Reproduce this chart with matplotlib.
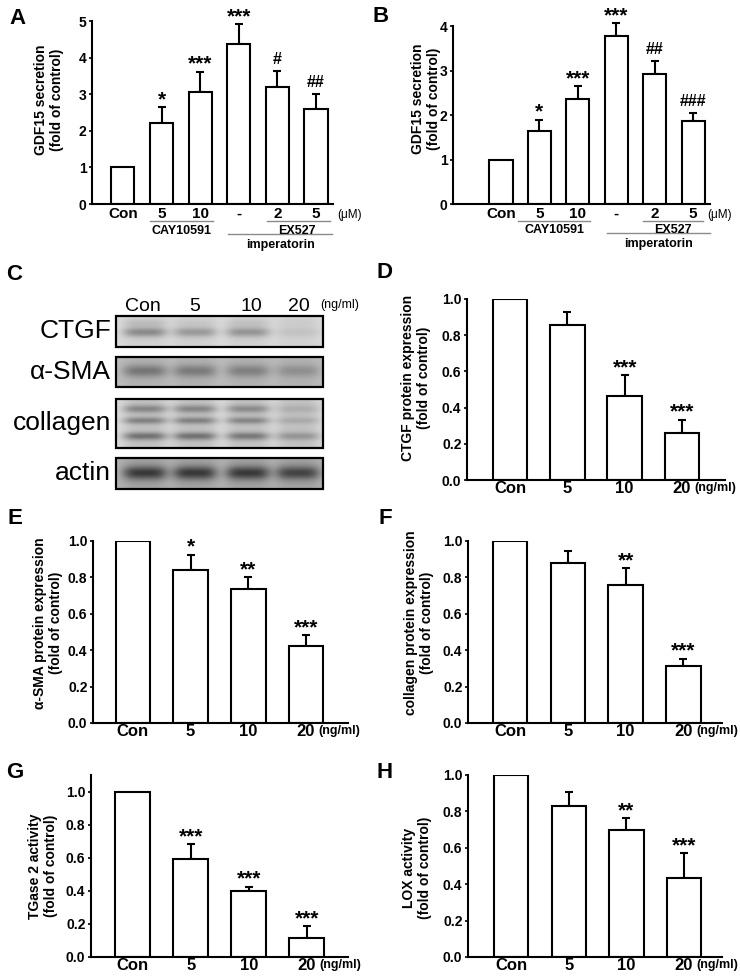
import numpy as np
import matplotlib
matplotlib.use("Agg")
import matplotlib.pyplot as plt
from matplotlib.patches import Rectangle

plt.rcParams['font.family'] = ['Liberation Sans', 'DejaVu Sans']

W, H = 740, 976

# ---- data ----
gdf_labels = ["Con", "5", "10", "-", "2", "5"]
gdf_a = [1.0, 2.21, 3.07, 4.36, 3.20, 2.60]
gdf_a_err = [0.0, 0.43, 0.55, 0.55, 0.44, 0.41]
gdf_a_sig = ["", "*", "***", "***", "#", "##"]
gdf_b = [1.0, 1.63, 2.36, 3.77, 2.92, 1.86]
gdf_b_err = [0.0, 0.26, 0.29, 0.29, 0.30, 0.18]
gdf_b_sig = ["", "*", "***", "***", "##", "###"]

dose_labels = ["Con", "5", "10", "20"]
ctgf = [1.0, 0.856, 0.462, 0.257]
ctgf_err = [0.0, 0.074, 0.118, 0.076]
ctgf_sig = ["", "", "***", "***"]
sma = [1.0, 0.838, 0.737, 0.424]
sma_err = [0.0, 0.087, 0.064, 0.057]
sma_sig = ["", "*", "**", "***"]
collagen = [1.0, 0.881, 0.756, 0.312]
collagen_err = [0.0, 0.062, 0.095, 0.042]
collagen_sig = ["", "", "**", "***"]
tgase = [1.0, 0.590, 0.398, 0.114]
tgase_err = [0.0, 0.090, 0.026, 0.073]
tgase_sig = ["", "***", "***", "***"]
lox = [1.0, 0.831, 0.698, 0.434]
lox_err = [0.0, 0.076, 0.063, 0.135]
lox_sig = ["", "", "**", "***"]

# western blot band strengths per lane (Con, 5, 10, 20)
blot_rows = ["CTGF", "α-SMA", "collagen", "actin"]
ctgf_band = [0.28, 0.22, 0.24, 0.06]
sma_band = [0.24, 0.22, 0.20, 0.14]
col_band_top = [0.24, 0.24, 0.22, 0.08]
col_band_mid = [0.26, 0.26, 0.24, 0.10]
col_band_low = [0.32, 0.32, 0.29, 0.18]
actin_band = [0.42, 0.42, 0.42, 0.38]


def rect(l, t, r, b):
    return [l / W, 1 - b / H, (r - l) / W, (b - t) / H]


fig = plt.figure(figsize=(W / 100, H / 100), dpi=100)


def bar_panel(box, labels, vals, errs, sigs, ylim, yticks, xlim, ylab, ylab_xy,
              xfs=12, pad=1.0, unit=None):
    ax = fig.add_axes(rect(*box))
    x = np.arange(len(vals))
    vals = np.asarray(vals)
    errs = np.asarray(errs)
    ax.bar(x, vals, width=0.6, color="white", edgecolor="black", linewidth=1.5, zorder=2)
    has = errs > 0
    eb = ax.errorbar(x[has], vals[has], yerr=[np.zeros(has.sum()), errs[has]], fmt="none",
                     ecolor="black", elinewidth=1.5, capsize=3, capthick=1.5, zorder=1)
    for art in eb.lines[1] + eb.lines[2]:
        art.set_clip_on(False)
    for xi, v, e, s in zip(x, vals, errs, sigs):
        if not s:
            continue
        if s.startswith("*"):
            ax.annotate(s, (xi, v + e), xytext=(0, 1.5), textcoords="offset points",
                        ha="center", va="baseline", fontsize=15, fontweight="bold",
                        annotation_clip=False)
        else:
            ax.annotate(s, (xi, v + e), xytext=(0, 5), textcoords="offset points",
                        ha="center", va="baseline", fontsize=11.5, fontweight="bold",
                        annotation_clip=False)
    ax.set_xlim(*xlim)
    ax.set_ylim(*ylim)
    ax.set_yticks(yticks)
    if yticks[-1] <= 1.5:
        ax.set_yticklabels([f"{t:.1f}" for t in yticks])
    ax.set_xticks(x)
    ax.set_xticklabels(labels, fontsize=xfs, fontweight="bold")
    ax.tick_params(axis="x", length=0, pad=pad)
    ax.tick_params(axis="y", direction="out", length=2.5, width=1.2, pad=1.5, labelsize=10)
    for t in ax.get_yticklabels():
        t.set_fontweight("bold")
    for sp in ["top", "right"]:
        ax.spines[sp].set_visible(False)
    for sp in ["left", "bottom"]:
        ax.spines[sp].set_linewidth(1.5)
    fig.text(ylab_xy[0] / W, 1 - ylab_xy[1] / H, ylab, rotation=90, ha="center",
             va="center", fontsize=10, fontweight="bold", multialignment="center",
             linespacing=1.25)
    if unit:
        ax.text(unit[0], unit[1], unit[2], transform=ax.get_xaxis_transform(),
                ha="left", va="center", fontsize=unit[3], fontweight=unit[4])
    return ax


def group_marks(ax, cay, ex, imp, cay_t, ex_t, imp_t):
    tr = ax.get_xaxis_transform()
    for (a, b), y in [(cay, -0.093), (ex, -0.093), (imp, -0.164)]:
        ax.plot([a, b], [y, y], color="#8a8a8a", lw=1.0, transform=tr, clip_on=False)
    ax.text(cay_t, -0.145, "CAY10591", transform=tr, ha="center", va="center",
            fontsize=9, fontweight="bold")
    ax.text(ex_t, -0.145, "EX527", transform=tr, ha="center", va="center",
            fontsize=9, fontweight="bold")
    ax.text(imp_t, -0.222, "imperatorin", transform=tr, ha="center", va="center",
            fontsize=9, fontweight="bold")


gdf_ylab = "GDF15 secretion\n(fold of control)"
axA = bar_panel((92, 21, 333, 204), gdf_labels, gdf_a, gdf_a_err, gdf_a_sig, (0, 5),
                [0, 1, 2, 3, 4, 5], (-0.8, 5.44), gdf_ylab, (49, 100), xfs=11, pad=2,
                unit=(5.54, -0.06, "(μM)", 8.5, "normal"))
group_marks(axA, (0.70, 2.33), (3.73, 5.36), (2.72, 5.41), 1.53, 4.5, 4.07)

axB = bar_panel((453, 26, 710, 204), gdf_labels, gdf_b, gdf_b_err, gdf_b_sig, (0, 4),
                [0, 1, 2, 3, 4], (-1.25, 5.44), gdf_ylab, (426, 99), xfs=11, pad=2,
                unit=(5.36, -0.06, "(μM)", 8.5, "normal"))
group_marks(axB, (0.44, 2.32), (3.70, 5.26), (2.76, 5.44), 1.4, 4.48, 4.09)

ticks1 = [0.0, 0.2, 0.4, 0.6, 0.8, 1.0]
ng = (3.22, -0.045, "(ng/ml)", 9, "bold")
bar_panel((467, 299, 725, 480), dose_labels, ctgf, ctgf_err, ctgf_sig, (0, 1.0), ticks1,
          (-0.75, 3.75), "CTGF protein expression\n(fold of control)", (416, 378), unit=ng)
bar_panel((93, 541, 348, 723), dose_labels, sma, sma_err, sma_sig, (0, 1.0), ticks1,
          (-0.69, 3.73), "α-SMA protein expression\n(fold of control)", (48, 623), unit=ng)
bar_panel((468, 541, 722, 723), dose_labels, collagen, collagen_err, collagen_sig, (0, 1.0),
          ticks1, (-0.73, 3.67), "collagen protein expression\n(fold of control)", (419, 623),
          unit=ng)
bar_panel((91, 775, 348, 957), dose_labels, tgase, tgase_err, tgase_sig, (0, 1.1), ticks1,
          (-0.72, 3.71), "TGase 2 activity\n(fold of control)", (43, 866), unit=ng)
bar_panel((468, 775, 722, 957), dose_labels, lox, lox_err, lox_sig, (0, 1.0), ticks1,
          (-0.75, 3.66), "LOX activity\n(fold of control)", (417, 868), unit=ng)

# ---- panel C: western blot ----
axC = fig.add_axes(rect(0, 250, 370, 500))
axC.set_xlim(0, 370)
axC.set_ylim(500, 250)
axC.axis("off")

lane_x = [145, 195, 248, 298]
bx0, bx1 = 116, 323


def strip(y0, y1, bg, bands, smear):
    nx, ny = (bx1 - bx0) * 3, (y1 - y0) * 3
    xx = np.linspace(bx0, bx1, nx)[None, :]
    yy = np.linspace(0, 1, ny)[:, None]
    img = np.full((ny, nx), bg)
    for k, lx in enumerate(lane_x):
        prof_x = np.exp(-((xx - lx) / 22.0) ** 4)
        img = img - smear * prof_x
        for yc, sy, inten in bands:
            img = img - inten[k] * prof_x * np.exp(-((yy - yc) / sy) ** 2)
    img = np.clip(img, 0, 1)
    axC.imshow(img, cmap="gray", vmin=0, vmax=1, extent=(bx0, bx1, y1, y0),
               aspect="auto", interpolation="bilinear", zorder=1)
    axC.add_patch(Rectangle((bx0, y0), bx1 - bx0, y1 - y0, fill=False,
                            edgecolor="black", lw=1.6, zorder=3))


strip(316, 347, 0.86, [(0.52, 0.16, ctgf_band), (0.22, 0.12, [0.08, 0.04, 0.06, 0.02])], 0.04)
strip(357, 387, 0.74, [(0.48, 0.20, sma_band)], 0.04)
strip(399, 448, 0.86, [(0.20, 0.08, col_band_top), (0.44, 0.07, col_band_mid),
                       (0.76, 0.08, col_band_low)], 0.10)
strip(458, 489, 0.70, [(0.48, 0.22, actin_band)], 0.06)

for name, yc in zip(blot_rows, [331.5, 372, 423.5, 473.5]):
    axC.text(111, yc, name, ha="right", va="center", fontsize=19)
for lab, lx in zip(dose_labels, [143, 195, 251, 299]):
    axC.text(lx, 307, lab, ha="center", va="center", fontsize=14)
axC.text(340, 305, "(ng/ml)", ha="center", va="center", fontsize=9)

# panel letters
for lab, px, py in [("A", 17, 18), ("B", 381, 17), ("C", 14, 274), ("D", 384, 272),
                    ("E", 15, 519), ("F", 385, 519), ("G", 15, 773), ("H", 385, 772)]:
    fig.text(px / W, 1 - py / H, lab, ha="center", va="center", fontsize=16,
             fontweight="bold")

fig.savefig("out.png", dpi=100)
